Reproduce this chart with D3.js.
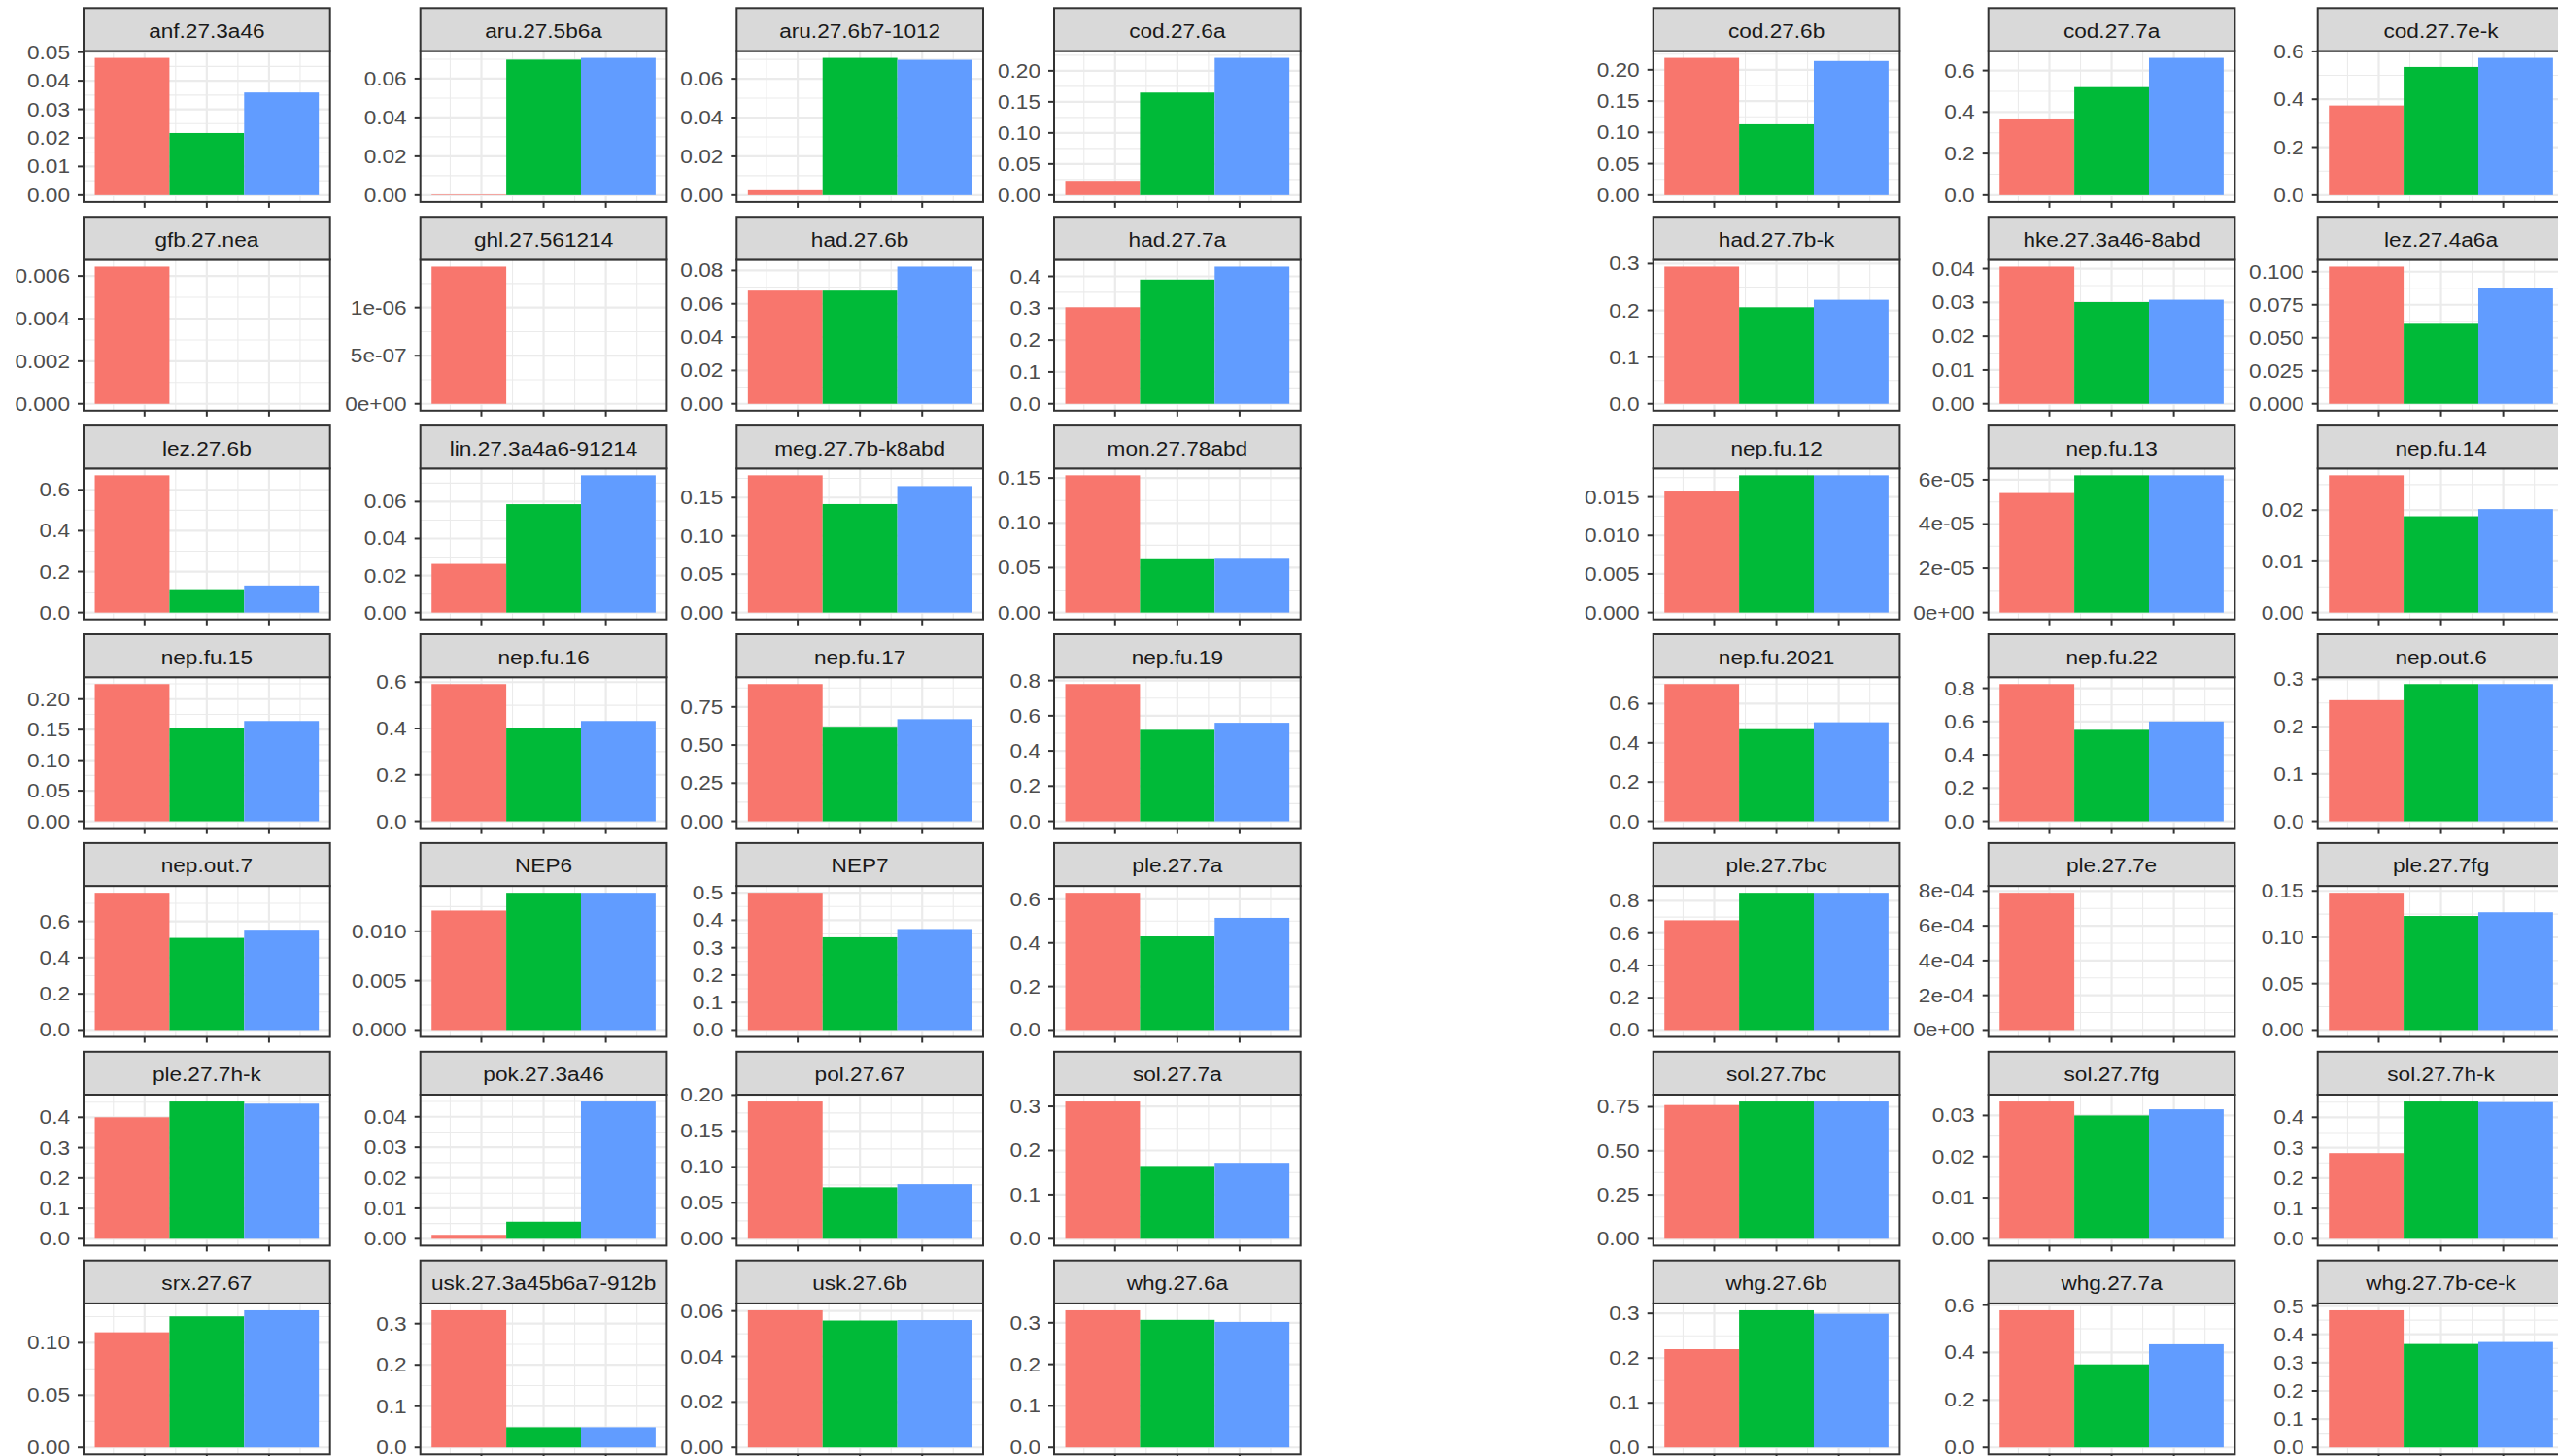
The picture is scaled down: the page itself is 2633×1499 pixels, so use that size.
<!DOCTYPE html>
<html>
<head>
<meta charset="utf-8">
<script src="https://cdn.jsdelivr.net/npm/d3@7"></script>
<style>
  html, body { margin: 0; padding: 0; background: #ffffff; }
  svg { display: block; }
</style>
</head>
<body>
<svg id="chart" width="2633" height="1499"></svg>
<script>
// Stock facets, in facet order (row by row, 7 per row)
const stocks = [
  "anf.27.3a46", "aru.27.5b6a", "aru.27.6b7-1012", "cod.27.6a", "cod.27.6b", "cod.27.7a", "cod.27.7e-k",
  "gfb.27.nea", "ghl.27.561214", "had.27.6b", "had.27.7a", "had.27.7b-k", "hke.27.3a46-8abd", "lez.27.4a6a",
  "lez.27.6b", "lin.27.3a4a6-91214", "meg.27.7b-k8abd", "mon.27.78abd", "nep.fu.12", "nep.fu.13", "nep.fu.14",
  "nep.fu.15", "nep.fu.16", "nep.fu.17", "nep.fu.19", "nep.fu.2021", "nep.fu.22", "nep.out.6",
  "nep.out.7", "NEP6", "NEP7", "ple.27.7a", "ple.27.7bc", "ple.27.7e", "ple.27.7fg",
  "ple.27.7h-k", "pok.27.3a46", "pol.27.67", "sol.27.7a", "sol.27.7bc", "sol.27.7fg", "sol.27.7h-k",
  "srx.27.67", "usk.27.3a45b6a7-912b", "usk.27.6b", "whg.27.6a", "whg.27.6b", "whg.27.7a", "whg.27.7b-ce-k"
];

// Three series per stock (null = no bar)
const valuesA = [
  0.0480, 0.0003, 0.0025, 0.0229, 0.2190, 0.3690, 0.3740,
  0.00644, 1.426e-6, 0.0679, 0.3030, 0.2937, 0.0406, 0.1039,
  0.6710, 0.0263, 0.1790, 0.1530, 0.0157, 5.4e-5, 0.0268,
  0.2246, 0.5915, 0.9000, 0.7800, 0.7000, 0.8250, 0.2560,
  0.7580, 0.0121, 0.5000, 0.6300, 0.6800, 7.9e-4, 0.1480,
  0.4000, 0.0013, 0.1910, 0.3110, 0.7600, 0.0334, 0.2820,
  0.1100, 0.3323, 0.0603, 0.3300, 0.2200, 0.5780, 0.4850
];
const valuesB = [
  0.0217, 0.0698, 0.0708, 0.1650, 0.1130, 0.5200, 0.5350,
  null, null, 0.0679, 0.3900, 0.2067, 0.0301, 0.0606,
  0.1140, 0.0586, 0.1415, 0.0605, 0.0178, 6.2e-5, 0.0188,
  0.1519, 0.4000, 0.6200, 0.5200, 0.4700, 0.5500, 0.2900,
  0.5090, 0.0139, 0.3380, 0.4300, 0.8500, null, 0.1230,
  0.4520, 0.0056, 0.0716, 0.1650, 0.7800, 0.0300, 0.4520,
  0.1252, 0.0490, 0.0558, 0.3070, 0.3070, 0.3500, 0.3660
];
const valuesC = [
  0.0359, 0.0707, 0.0698, 0.2208, 0.2140, 0.6610, 0.5730,
  null, null, 0.0823, 0.4306, 0.2227, 0.0308, 0.0874,
  0.1320, 0.0742, 0.1650, 0.0610, 0.0178, 6.2e-5, 0.0202,
  0.1642, 0.4324, 0.6700, 0.5600, 0.5050, 0.6000, 0.2900,
  0.5540, 0.0139, 0.3680, 0.5150, 0.8500, null, 0.1270,
  0.4450, 0.0450, 0.0760, 0.1720, 0.7800, 0.0315, 0.4500,
  0.1310, 0.0490, 0.0560, 0.3020, 0.2990, 0.4350, 0.3730
];
const seriesColors = ["#F8766D", "#00BA38", "#619CFF"];

// Facets whose y breaks use a different step than the default tick search
const tickStepOverride = { "lez.27.4a6a": 0.025, "nep.fu.17": 0.25, "sol.27.7bc": 0.25 };

// x axis: one dodged position at 1, breaks every 0.25
const xMajor = [0.75, 1, 1.25];
const xMinor = [0.625, 0.875, 1.125, 1.375];

// ---- layout ----
const nCols = 7;
const colLeft = [86, 432.7, 758.3, 1085, 1701.7, 2046.7, 2385.7];
const panelW = 253.7;
const rowTop0 = 8.3, rowPitch = 214.9, stripH = 44.2, panelH = 155.4;
const fontSize = 19.5, textStretch = 1.16;
const fontFamily = "'Liberation Sans', Arial, Helvetica, sans-serif";
const dodgeWidth = 0.9;

const svg = d3.select("#chart");
svg.append("rect").attr("width", 2633).attr("height", 1499).attr("fill", "#ffffff");

// scientific labels with a shared mantissa precision, e.g. 5e-07
function sciLabels(ticks) {
  let digits = 0;
  for (; digits < 4; digits++) {
    const ok = ticks.every(v => {
      if (v === 0) return true;
      const e = Math.floor(Math.log10(Math.abs(v)) + 1e-9);
      const m = v / Math.pow(10, e);
      return Math.abs(+m.toFixed(digits) - m) < 1e-6;
    });
    if (ok) break;
  }
  return ticks.map(v => {
    let e = v === 0 ? 0 : Math.floor(Math.log10(Math.abs(v)) + 1e-9);
    let m = v === 0 ? 0 : v / Math.pow(10, e);
    let ms = m.toFixed(digits);
    if (+ms >= 10) { e += 1; ms = (m / 10).toFixed(digits); }
    const sign = e < 0 ? "-" : "+";
    return `${ms}e${sign}${String(Math.abs(e)).padStart(2, "0")}`;
  });
}

// fixed labels with the fewest decimals that show every break exactly
function fixedLabels(ticks, step) {
  let p = 0;
  for (; p < 12; p++) {
    if (ticks.every(v => Math.abs(+v.toFixed(p) - v) < step * 1e-6)) break;
  }
  return ticks.map(v => v.toFixed(p));
}

function tickLabels(ticks, step) {
  const fixed = fixedLabels(ticks, step);
  const sci = sciLabels(ticks);
  const wFixed = d3.max(fixed, s => s.length);
  const wSci = d3.max(sci, s => s.length);
  return wFixed > wSci ? sci : fixed;
}

function stretchedText(g, x, y, str, anchor, color) {
  g.append("text")
    .attr("transform", `translate(${x},${y}) scale(${textStretch},1)`)
    .attr("text-anchor", anchor)
    .attr("font-family", fontFamily)
    .attr("font-size", fontSize)
    .attr("fill", color)
    .text(str);
}

stocks.forEach((name, i) => {
  const col = i % nCols, row = Math.floor(i / nCols);
  const x0 = colLeft[col];
  const stripTop = rowTop0 + row * rowPitch;
  const pTop = stripTop + stripH;
  const pBottom = pTop + panelH;
  const vals = [valuesA[i], valuesB[i], valuesC[i]];
  const M = d3.max(vals.filter(v => v != null));
  const lo = 0 - 0.05 * M, hi = M + 0.05 * M;

  const x = d3.scaleLinear().domain([1 - dodgeWidth / 2 - 0.045, 1 + dodgeWidth / 2 + 0.045]).range([x0, x0 + panelW]);
  const y = d3.scaleLinear().domain([lo, hi]).range([pBottom, pTop]);

  let ticks, step;
  if (tickStepOverride[name]) {
    step = tickStepOverride[name];
    ticks = d3.range(Math.ceil(lo / step - 1e-9), Math.floor(hi / step + 1e-9) + 1).map(k => k * step);
  } else {
    ticks = y.ticks(4);
    step = d3.tickStep(lo, hi, 4);
  }
  const minor = [];
  for (let k = -1; k < ticks.length; k++) {
    const v = (k < 0 ? ticks[0] - step : ticks[k]) + step / 2;
    if (v > lo && v < hi) minor.push(v);
  }
  const labels = tickLabels(ticks, step);

  const g = svg.append("g").attr("class", "facet");

  // panel background + grid
  g.append("rect").attr("x", x0).attr("y", pTop).attr("width", panelW).attr("height", panelH).attr("fill", "#ffffff");
  const grid = g.append("g").attr("stroke", "#EBEBEB");
  grid.selectAll("line.ymin").data(minor).join("line")
    .attr("x1", x0).attr("x2", x0 + panelW).attr("y1", d => y(d)).attr("y2", d => y(d)).attr("stroke-width", 1.1);
  grid.selectAll("line.xmin").data(xMinor).join("line")
    .attr("y1", pTop).attr("y2", pBottom).attr("x1", d => x(d)).attr("x2", d => x(d)).attr("stroke-width", 1.1);
  grid.selectAll("line.ymaj").data(ticks).join("line")
    .attr("x1", x0).attr("x2", x0 + panelW).attr("y1", d => y(d)).attr("y2", d => y(d)).attr("stroke-width", 2.2);
  grid.selectAll("line.xmaj").data(xMajor).join("line")
    .attr("y1", pTop).attr("y2", pBottom).attr("x1", d => x(d)).attr("x2", d => x(d)).attr("stroke-width", 2.2);

  // dodged bars
  const bw = dodgeWidth / 3;
  g.selectAll("rect.bar").data(vals.map((v, j) => ({ v, j })).filter(d => d.v != null)).join("rect")
    .attr("class", "bar")
    .attr("x", d => x(1 - dodgeWidth / 2 + d.j * bw))
    .attr("width", d => x(1 - dodgeWidth / 2 + (d.j + 1) * bw) - x(1 - dodgeWidth / 2 + d.j * bw))
    .attr("y", d => y(d.v))
    .attr("height", d => y(0) - y(d.v))
    .attr("fill", d => seriesColors[d.j]);

  // panel border
  g.append("rect").attr("x", x0).attr("y", pTop).attr("width", panelW).attr("height", panelH)
    .attr("fill", "none").attr("stroke", "#333333").attr("stroke-width", 2);

  // strip
  g.append("rect").attr("x", x0).attr("y", stripTop).attr("width", panelW).attr("height", stripH)
    .attr("fill", "#D9D9D9").attr("stroke", "#333333").attr("stroke-width", 2);
  stretchedText(g, x0 + panelW / 2, stripTop + 30.5, name, "middle", "#1A1A1A");

  // y axis ticks and labels
  const ax = g.append("g").attr("stroke", "#333333").attr("stroke-width", 2);
  ax.selectAll("line.yt").data(ticks).join("line")
    .attr("x1", x0 - 6).attr("x2", x0).attr("y1", d => y(d)).attr("y2", d => y(d));
  ax.selectAll("line.xt").data(xMajor).join("line")
    .attr("y1", pBottom).attr("y2", pBottom + 6).attr("x1", d => x(d)).attr("x2", d => x(d));
  ticks.forEach((t, k) => stretchedText(g, x0 - 14, y(t) + 7, labels[k], "end", "#4D4D4D"));
});
</script>
</body>
</html>
